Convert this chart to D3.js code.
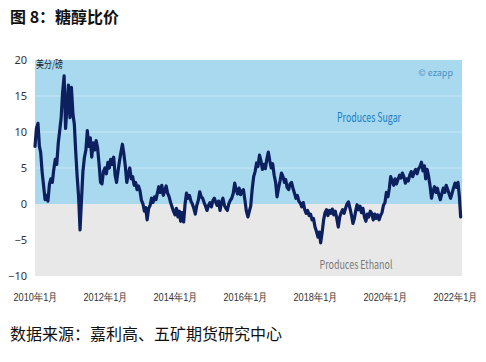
<!DOCTYPE html>
<html>
<head>
<meta charset="utf-8">
<script src="https://cdn.jsdelivr.net/npm/d3@7"></script>
<style>
  body { margin: 0; background: #fff; }
  svg { display: block; font-family: "Noto Sans CJK SC", "Noto Sans", sans-serif; }
</style>
</head>
<body>
<svg id="chart" width="486" height="362"></svg>
<script>
// sugar / ethanol price parity, US cents per lb, two readings per month
var y2010 = [8.0, 10.5, 11.2, 8.0, 7.2, 4.5, 2.5, 0.6, 1.2, 0.4, 2.8, 3.5, 3.0, 4.8, 6.2, 5.5, 8.5, 10.2, 12.0, 15.5, 17.8, 10.5, 13.5, 16.5];
var y2011 = [12.0, 16.2, 12.5, 11.0, 7.5, 4.0, 1.0, -3.6, 0.5, 4.5, 6.5, 7.5, 10.2, 8.0, 9.2, 6.5, 8.5, 7.5, 8.8, 7.8, 5.5, 3.0, 2.8, 4.5];
var y2012 = [5.0, 4.2, 5.8, 5.0, 6.2, 5.5, 6.5, 4.0, 3.0, 4.5, 6.0, 7.2, 8.3, 7.0, 5.2, 3.0, 4.2, 5.0, 3.5, 3.8, 2.6, 3.0, 2.0, 2.5];
var y2013 = [1.8, 0.5, 0.0, -1.0, -0.5, -2.2, -0.6, -0.2, 0.8, 0.2, 1.0, 0.6, 1.5, 2.4, 1.6, 2.6, 1.2, 1.8, 2.5, 1.5, 1.0, 0.2, -0.4, -1.0];
var y2014 = [-1.5, -0.6, -1.8, -1.0, -2.4, -1.2, -2.5, 0.0, 1.5, 0.8, 1.2, 0.4, 0.0, -0.6, -1.4, -0.2, 0.5, 1.7, 1.0, 0.8, 0.2, -0.3, -0.9, -0.2];
var y2015 = [0.2, -0.4, 0.5, 0.8, 0.3, -0.2, 0.4, -0.9, 0.2, 0.8, -0.2, -0.6, -0.9, 0.0, 0.5, 0.8, 1.5, 2.9, 2.0, 1.4, 2.2, 1.3, 1.8, 2.0];
var y2016 = [0.5, -1.0, -1.8, -1.0, -0.3, 2.0, 3.8, 4.5, 5.7, 5.2, 6.8, 6.0, 4.8, 5.5, 4.9, 6.2, 7.2, 6.0, 5.0, 5.6, 4.0, 3.0, 1.0, 2.2];
var y2017 = [3.2, 4.3, 3.8, 3.0, 3.4, 2.3, 2.0, 2.8, 3.0, 2.2, 1.5, 0.8, 1.2, 0.4, 0.1, -0.4, 0.2, -0.8, -1.3, -0.9, -1.6, -1.4, -2.2, -2.0];
var y2018 = [-3.2, -3.8, -4.6, -3.9, -5.4, -4.0, -2.2, -1.2, -0.8, -1.6, -0.9, -1.3, -0.7, -1.5, -1.0, -2.0, -3.2, -1.8, -1.2, -0.8, -1.3, -0.6, 0.0, 0.3];
var y2019 = [-0.6, -1.5, -2.7, -2.0, -1.0, -0.1, -0.8, -0.3, -1.2, -0.6, -1.8, -2.4, -1.4, -1.8, -1.0, -1.3, -2.2, -1.4, -2.0, -1.5, -2.2, -1.6, -1.2, -0.2];
var y2020 = [0.2, 1.6, 1.0, 2.2, 3.8, 3.2, 2.6, 3.5, 2.8, 3.4, 4.0, 3.6, 4.3, 3.8, 2.9, 3.5, 3.2, 4.0, 4.5, 3.8, 4.4, 4.8, 4.2, 4.9];
var y2021 = [5.2, 5.8, 4.6, 5.3, 3.5, 4.8, 3.8, 2.5, 0.8, 1.8, 2.4, 1.6, 2.2, 1.3, 0.6, 1.4, 2.2, 1.6, 2.6, 2.0, 1.4, 0.8, 1.5, 2.2];
var y2022 = [2.9, 2.3, 3.0, 1.0, -1.8];

var years = [2010, 2011, 2012, 2013, 2014, 2015, 2016, 2017, 2018, 2019, 2020, 2021, 2022];
var byYear = [y2010, y2011, y2012, y2013, y2014, y2015, y2016, y2017, y2018, y2019, y2020, y2021, y2022];

var yTicks = [-10, -5, 0, 5, 10, 15, 20];
var xTickYears = [2010, 2012, 2014, 2016, 2018, 2020, 2022];

var data = [];
byYear.forEach(function(vals, k) {
  vals.forEach(function(v, i) {
    data.push({ date: new Date(years[k], Math.floor(i / 2), i % 2 ? 16 : 1), value: v });
  });
});

var svg = d3.select("svg#chart");

// plot box
var plotLeft = 35, plotRight = 462, plotTop = 60, plotBottom = 276;

var x = d3.scaleTime()
  .domain([new Date(2010, 0, 1), new Date(2022, 0, 1)])
  .range([plotLeft, 455]);

var y = d3.scaleLinear()
  .domain([-10, 20])
  .range([plotBottom, plotTop]);

// title
svg.append("text")
  .attr("x", 10).attr("y", 23)
  .attr("font-size", 16).attr("font-weight", "bold")
  .attr("fill", "#111")
  .text("图 8：糖醇比价");

// background zones
svg.append("rect")
  .attr("x", plotLeft).attr("y", y(20))
  .attr("width", plotRight - plotLeft).attr("height", y(0) - y(20))
  .attr("fill", "#a8d9ef");
svg.append("rect")
  .attr("x", plotLeft).attr("y", y(0))
  .attr("width", plotRight - plotLeft).attr("height", y(-10) - y(0))
  .attr("fill", "#e8e8e8");

// faint gridlines
svg.append("g")
  .selectAll("line")
  .data([5, 10, 15])
  .join("line")
    .attr("x1", plotLeft).attr("x2", plotRight)
    .attr("y1", function(d) { return y(d); })
    .attr("y2", function(d) { return y(d); })
    .attr("stroke", "#fff")
    .attr("stroke-opacity", 0.4)
    .attr("stroke-width", 1);

// zone labels
svg.append("text")
  .attr("x", 369).attr("y", 122)
  .attr("text-anchor", "middle")
  .attr("font-size", 13)
  .attr("textLength", 64).attr("lengthAdjust", "spacingAndGlyphs")
  .attr("fill", "#1c7fc4")
  .text("Produces Sugar");
svg.append("text")
  .attr("x", 356).attr("y", 269)
  .attr("text-anchor", "middle")
  .attr("font-size", 12)
  .attr("textLength", 73).attr("lengthAdjust", "spacingAndGlyphs")
  .attr("fill", "#7a7a7a")
  .text("Produces Ethanol");
svg.append("text")
  .attr("x", 453).attr("y", 76)
  .attr("text-anchor", "end")
  .attr("font-size", 9)
  .attr("fill", "#4a90c8")
  .text("© ezapp");

// line
var line = d3.line()
  .x(function(d) { return x(d.date); })
  .y(function(d) { return y(d.value); });

svg.append("path")
  .datum(data)
  .attr("fill", "none")
  .attr("stroke", "#0c1f5e")
  .attr("stroke-width", 3.2)
  .attr("stroke-linejoin", "round")
  .attr("stroke-linecap", "round")
  .attr("d", line);

// unit label
svg.append("text")
  .attr("x", 36).attr("y", 68)
  .attr("font-size", 10)
  .attr("textLength", 27).attr("lengthAdjust", "spacingAndGlyphs")
  .attr("fill", "#222")
  .text("美分/磅");

// y axis
var gy = svg.append("g")
  .attr("transform", "translate(27,0)")
  .call(d3.axisLeft(y).tickValues(yTicks).tickSize(0).tickPadding(0));
gy.select(".domain").remove();
gy.selectAll("text")
  .attr("font-family", "'Noto Sans', sans-serif")
  .attr("font-size", 11)
  .attr("fill", "#333");

// x axis
var gx = svg.append("g")
  .attr("transform", "translate(0,290)")
  .call(d3.axisBottom(x)
    .tickValues(xTickYears.map(function(yr) { return new Date(yr, 0, 1); }))
    .tickSize(0)
    .tickFormat(function(d) { return d.getFullYear() + "年1月"; }));
gx.select(".domain").remove();
gx.selectAll("text")
  .attr("font-size", 11)
  .attr("fill", "#333")
  .attr("textLength", 44)
  .attr("lengthAdjust", "spacingAndGlyphs");

// source
svg.append("text")
  .attr("x", 10).attr("y", 340)
  .attr("font-size", 16)
  .attr("fill", "#111")
  .text("数据来源：嘉利高、五矿期货研究中心");
</script>
</body>
</html>
